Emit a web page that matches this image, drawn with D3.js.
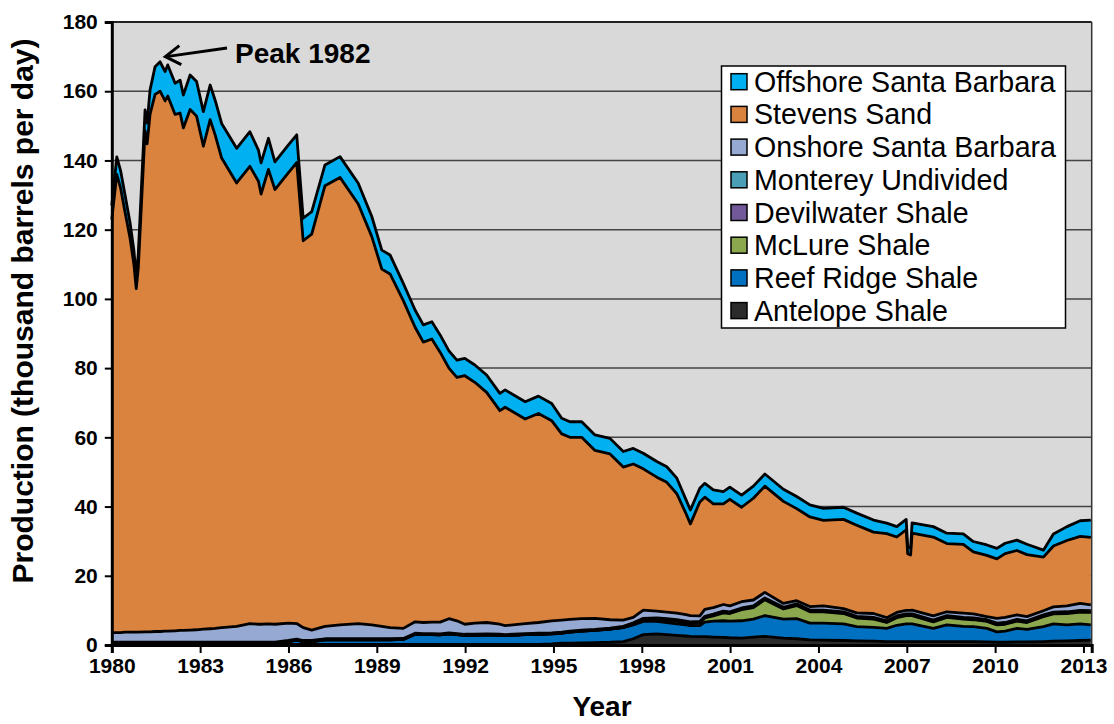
<!DOCTYPE html>
<html>
<head>
<meta charset="utf-8">
<script src="https://cdn.jsdelivr.net/npm/d3@7"></script>
<style>
  body { margin: 0; background: #fff; }
  text { font-family: "Liberation Sans", Arial, sans-serif; }
</style>
</head>
<body>
<div id="chart"></div>
<script>
// Monthly-ish production (thousand barrels per day), by formation
var years = [1980.00,1980.17,1980.30,1980.45,1980.62,1980.75,1980.83,1980.90,1981.13,1981.20,
  1981.30,1981.47,1981.64,1981.81,1981.90,1982.15,1982.32,1982.43,1982.66,1982.88,
  1983.11,1983.34,1983.51,1983.73,1984.24,1984.69,1984.98,1985.07,1985.32,1985.54,
  1986.00,1986.28,1986.50,1986.79,1987.24,1987.75,1988.37,1988.83,1989.17,1989.45,
  1989.90,1990.30,1990.58,1990.87,1991.15,1991.45,1991.72,1991.99,1992.33,1992.73,
  1993.18,1993.36,1994.04,1994.49,1994.94,1995.28,1995.56,1995.96,1996.41,1996.92,
  1997.37,1997.71,1998.05,1998.51,1998.85,1999.19,1999.50,1999.65,1999.97,2000.14,
  2000.43,2000.77,2000.99,2001.39,2001.79,2002.18,2002.81,2003.26,2003.71,2004.17,
  2004.85,2005.30,2005.87,2006.32,2006.66,2006.98,2007.03,2007.13,2007.18,2007.90,
  2008.36,2008.92,2009.26,2009.72,2010.06,2010.34,2010.74,2011.08,2011.64,2011.98,
  2012.44,2012.89,2013.25];

var antelope = [0.2,0.2,0.2,0.2,0.2,0.2,0.2,0.2,0.2,0.2,
  0.2,0.2,0.2,0.2,0.2,0.2,0.2,0.2,0.2,0.2,
  0.2,0.2,0.2,0.2,0.2,0.2,0.2,0.2,0.2,0.2,
  0.2,0.2,0.2,0.2,0.2,0.2,0.2,0.2,0.2,0.2,
  0.2,0.2,0.2,0.2,0.2,0.2,0.2,0.2,0.2,0.2,
  0.2,0.2,0.2,0.2,0.3,0.5,0.5,0.6,0.7,0.8,
  1.0,1.8,3.0,3.2,3.0,2.8,2.6,2.5,2.4,2.4,
  2.3,2.2,2.1,2.0,2.3,2.5,2.0,1.8,1.5,1.4,
  1.3,1.2,1.1,1.0,1.0,1.0,1.0,1.0,1.0,1.0,
  1.0,1.0,1.0,0.9,0.8,0.8,0.9,0.9,1.0,1.1,
  1.2,1.3,1.4];

var reefRidge = [0.3,0.3,0.3,0.3,0.3,0.3,0.3,0.3,0.3,0.3,
  0.3,0.3,0.3,0.3,0.3,0.3,0.3,0.3,0.3,0.3,
  0.3,0.3,0.3,0.3,0.3,0.3,0.3,0.3,0.3,0.3,
  0.8,1.2,0.8,0.8,1.3,1.3,1.3,1.3,1.3,1.3,
  1.4,2.9,2.8,2.8,2.7,3.0,2.8,2.6,2.6,2.7,
  2.6,2.5,2.8,2.9,2.9,2.9,3.2,3.4,3.5,3.8,
  4.0,4.0,3.8,3.6,3.5,3.3,3.2,3.1,3.2,4.2,
  4.6,4.8,4.8,5.0,5.2,6.0,5.5,5.8,4.8,4.9,
  4.8,4.1,4.0,3.8,4.7,5.1,5.1,5.1,5.1,3.8,
  4.8,4.4,4.3,3.9,3.0,3.2,3.9,3.6,4.3,5.0,
  4.6,4.8,4.4];

var mclure = [0,0,0,0,0,0,0,0,0,0,
  0,0,0,0,0,0,0,0,0,0,
  0,0,0,0,0,0,0,0,0,0,
  0,0,0,0,0,0,0,0,0,0,
  0,0,0,0,0,0,0,0,0,0,
  0,0,0,0,0,0,0,0,0,0,
  0.1,0.2,0.4,0.5,0.6,0.7,0.6,0.6,0.7,1.2,
  1.5,2.3,2.2,3.2,3.3,4.6,2.9,3.8,3.3,3.3,
  3.0,2.5,2.4,1.7,2.2,2.4,2.4,2.4,2.4,1.9,
  2.2,2.1,2.0,2.0,2.0,2.0,2.1,2.0,2.9,2.9,
  3.3,3.4,3.6];

var devilwater = [0,0,0,0,0,0,0,0,0,0,
  0,0,0,0,0,0,0,0,0,0,
  0,0,0,0,0,0,0,0,0,0,
  0,0,0,0,0,0,0,0,0,0,
  0,0,0,0,0,0,0,0,0,0,
  0,0,0,0,0,0,0,0,0,0,
  0,0.1,0.2,0.2,0.2,0.2,0.2,0.2,0.2,0.2,
  0.2,0.2,0.2,0.2,0.2,0.2,0.2,0.2,0.2,0.2,
  0.2,0.2,0.2,0.2,0.2,0.2,0.2,0.2,0.2,0.2,
  0.2,0.2,0.2,0.2,0.2,0.2,0.2,0.2,0.2,0.2,
  0.2,0.2,0.2];

var monterey = [0.3,0.3,0.3,0.3,0.3,0.3,0.3,0.3,0.3,0.3,
  0.3,0.3,0.3,0.3,0.3,0.3,0.3,0.3,0.3,0.3,
  0.3,0.3,0.3,0.3,0.3,0.3,0.3,0.3,0.3,0.3,
  0.3,0.3,0.3,0.3,0.3,0.3,0.3,0.3,0.3,0.3,
  0.3,0.3,0.3,0.3,0.3,0.3,0.3,0.3,0.3,0.3,
  0.3,0.3,0.3,0.3,0.3,0.3,0.3,0.3,0.3,0.3,
  0.3,0.3,0.3,0.3,0.3,0.3,0.3,0.3,0.3,0.3,
  0.3,0.3,0.3,0.3,0.3,0.3,0.3,0.3,0.3,0.3,
  0.3,0.3,0.3,0.3,0.3,0.3,0.3,0.3,0.3,0.3,
  0.3,0.3,0.3,0.3,0.3,0.3,0.3,0.3,0.3,0.3,
  0.3,0.3,0.3];

var onshoreSB = [2.8,2.8,2.8,2.9,2.9,2.9,2.9,2.9,3.0,3.0,
  3.0,3.1,3.1,3.2,3.2,3.3,3.4,3.4,3.5,3.6,
  3.8,3.9,4.0,4.2,4.6,5.4,5.2,5.2,5.3,5.2,
  5.0,4.5,3.7,3.0,3.6,4.0,4.4,4.0,3.6,3.2,
  2.9,3.3,3.2,3.3,3.4,4.1,3.7,2.9,3.2,3.3,
  2.9,2.6,2.9,3.1,3.5,3.5,3.4,3.3,3.2,2.4,
  1.8,1.6,2.4,2.0,1.9,1.9,1.9,1.8,1.6,2.0,
  1.9,1.9,1.7,1.8,1.7,1.6,1.1,0.9,1.0,1.2,
  0.9,1.0,1.1,0.9,1.0,1.0,1.0,1.0,1.1,1.2,
  1.1,1.2,1.2,0.9,1.4,1.5,1.3,1.2,1.2,1.5,
  1.7,2.0,1.7];

var stevens = [119.4,132.4,128.4,121.3,113.8,106.3,99.3,105.3,144.8,141.0,
  149.6,155.2,156.1,153.2,154.6,149.2,149.5,145.2,150.4,148.4,
  139.5,147.1,142.6,135.7,128.1,132.1,128.0,124.3,131.3,125.6,
  130.2,133.2,111.8,114.4,127.3,129.3,121.2,112.2,103.2,102.2,
  94.7,85.1,81.0,81.8,78.0,72.4,70.3,71.8,69.6,66.5,
  61.7,63.1,59.1,60.4,57.8,53.8,52.6,52.4,48.5,47.9,
  44.2,44.3,40.8,38.7,37.5,34.5,29.2,26.5,32.9,32.4,
  30.0,29.1,30.8,27.3,29.4,30.7,29.5,26.6,25.9,24.7,
  25.8,25.3,23.5,24.3,21.8,23.3,16.4,16.0,22.2,22.8,
  19.7,19.9,17.9,17.7,17.2,18.4,18.6,17.9,15.5,17.6,
  18.9,19.4,19.5];

var offshoreSB = [4,5,5,5,4.5,4,3.5,4,6,6,
  7,8,8.5,8.5,9,9,9.5,9.5,10,10,
  10,10,10,10,10,10,9,9,9,8,
  8,8,6.5,6.5,6,6,6,5.8,5.5,5.5,
  5,5,5,5,5,5,5,5,5,5,
  5,5,5,5,5,4.5,4.5,4.5,4.5,4.5,
  4.5,4.5,4.5,4.5,4.5,4.5,4,4,4,4,
  4,3.5,3.5,3.5,3.5,3.5,3.5,3.5,3.5,3.5,
  3.5,3.5,3.5,3,3,3,2,2,3,3,
  3,3,3,3,3,3,3,3,2,3.5,
  4,4.5,5];

// stacking order bottom -> top, legend lists top -> bottom
var seriesNames = ["Antelope Shale", "Reef Ridge Shale", "McLure Shale", "Devilwater Shale",
  "Monterey Undivided", "Onshore Santa Barbara", "Stevens Sand", "Offshore Santa Barbara"];
var seriesValues = [antelope, reefRidge, mclure, devilwater, monterey, onshoreSB, stevens, offshoreSB];
var seriesColors = ["#2b2b2b", "#0070c0", "#8ca84e", "#72599a", "#4a9eb5", "#95a9d3", "#da833f", "#00b0f0"];

var xTicks = [1980, 1983, 1986, 1989, 1992, 1995, 1998, 2001, 2004, 2007, 2010, 2013];
var yTicks = [0, 20, 40, 60, 80, 100, 120, 140, 160, 180];

var W = 1114, H = 724;
var plotLeft = 111.8, plotRight = 1091.7, plotTop = 22, plotBottom = 645;

var rows = years.map(function(yr, i) {
  var r = { year: yr };
  seriesNames.forEach(function(n, k) { r[n] = seriesValues[k][i]; });
  return r;
});

var x = d3.scaleLinear().domain([1980, 2013.28]).range([plotLeft, plotRight]);
var y = d3.scaleLinear().domain([0, 180]).range([plotBottom, plotTop]);

var svg = d3.select("#chart").append("svg")
  .attr("width", W).attr("height", H);

// plot background
svg.append("rect")
  .attr("x", plotLeft).attr("y", plotTop)
  .attr("width", plotRight - plotLeft).attr("height", plotBottom - plotTop)
  .attr("fill", "#d9d9d9");

// gridlines
svg.append("g").selectAll("line")
  .data(yTicks.filter(function(d) { return d > 0; }))
  .enter().append("line")
  .attr("x1", plotLeft).attr("x2", plotRight)
  .attr("y1", function(d) { return y(d); })
  .attr("y2", function(d) { return y(d); })
  .attr("stroke", function(d) { return d === 180 ? "#222" : "#444"; })
  .attr("stroke-width", function(d) { return d === 180 ? 2 : 1.5; });

var stack = d3.stack().keys(seriesNames);
var layers = stack(rows);

var area = d3.area()
  .x(function(d) { return x(d.data.year); })
  .y0(function(d) { return y(d[0]); })
  .y1(function(d) { return y(d[1]); });

var topLine = d3.line()
  .x(function(d) { return x(d.data.year); })
  .y(function(d) { return y(d[1]); });

var plot = svg.append("g");

plot.selectAll(".layer")
  .data(layers)
  .enter().append("path")
  .attr("class", "layer")
  .attr("d", area)
  .attr("fill", function(d, i) { return seriesColors[i]; });

plot.selectAll(".edge")
  .data(layers)
  .enter().append("path")
  .attr("class", "edge")
  .attr("d", topLine)
  .attr("fill", "none")
  .attr("stroke", "#000")
  .attr("stroke-width", 2.8)
  .attr("stroke-linejoin", "round");

// right border
svg.append("line")
  .attr("x1", plotRight).attr("x2", plotRight)
  .attr("y1", plotTop).attr("y2", plotBottom)
  .attr("stroke", "#333").attr("stroke-width", 1.5);

// axes
var yAxis = d3.axisLeft(y).tickValues(yTicks).tickSize(7).tickPadding(7);
var xAxis = d3.axisBottom(x).tickValues(xTicks).tickSize(8).tickPadding(5).tickFormat(d3.format("d"));

var gy = svg.append("g")
  .attr("transform", "translate(" + plotLeft + ",0)")
  .call(yAxis);
var gx = svg.append("g")
  .attr("transform", "translate(0," + plotBottom + ")")
  .call(xAxis);

[gx, gy].forEach(function(g) {
  g.select(".domain").attr("stroke", "#000").attr("stroke-width", 3);
  g.selectAll(".tick line").attr("stroke", "#000").attr("stroke-width", 2);
  g.selectAll(".tick text")
    .attr("fill", "#000")
    .style("font-size", "21px")
    .style("font-weight", "bold")
    .style("font-family", "'Liberation Sans', Arial, sans-serif");
});

// axis titles
svg.append("text")
  .attr("x", 602).attr("y", 716)
  .attr("text-anchor", "middle")
  .style("font-size", "28px").style("font-weight", "bold")
  .text("Year");

svg.append("text")
  .attr("transform", "translate(33," + 311 + ") rotate(-90)")
  .attr("text-anchor", "middle")
  .style("font-size", "30px").style("font-weight", "bold")
  .text("Production (thousand barrels per day)");

// peak annotation
var peakX = x(1981.75), peakY = y(170);
svg.append("line")
  .attr("x1", 227).attr("y1", 48)
  .attr("x2", peakX + 3).attr("y2", peakY)
  .attr("stroke", "#000").attr("stroke-width", 3);
svg.append("path")
  .attr("d", "M" + (peakX + 16) + "," + (peakY - 11) + " L" + (peakX + 2) + "," + peakY + " L" + (peakX + 18) + "," + (peakY + 8))
  .attr("fill", "none").attr("stroke", "#000").attr("stroke-width", 3)
  .attr("stroke-linejoin", "miter");
svg.append("text")
  .attr("x", 235).attr("y", 63)
  .style("font-size", "28px").style("font-weight", "bold")
  .text("Peak 1982");

// legend
var legend = svg.append("g");
legend.append("rect")
  .attr("x", 721.5).attr("y", 66)
  .attr("width", 344).attr("height", 262)
  .attr("fill", "#fff").attr("stroke", "#000").attr("stroke-width", 1.5);

var legendOrder = seriesNames.slice().reverse();
var items = legend.selectAll(".item")
  .data(legendOrder)
  .enter().append("g")
  .attr("transform", function(d, i) { return "translate(0," + (81.7 + i * 32.7) + ")"; });

items.append("rect")
  .attr("x", 731).attr("y", -8)
  .attr("width", 16).attr("height", 16)
  .attr("fill", function(d) { return seriesColors[seriesNames.indexOf(d)]; })
  .attr("stroke", "#000").attr("stroke-width", 1.5);

items.append("text")
  .attr("x", 754).attr("y", 10)
  .style("font-size", "28.6px")
  .text(function(d) { return d; });
</script>
</body>
</html>
